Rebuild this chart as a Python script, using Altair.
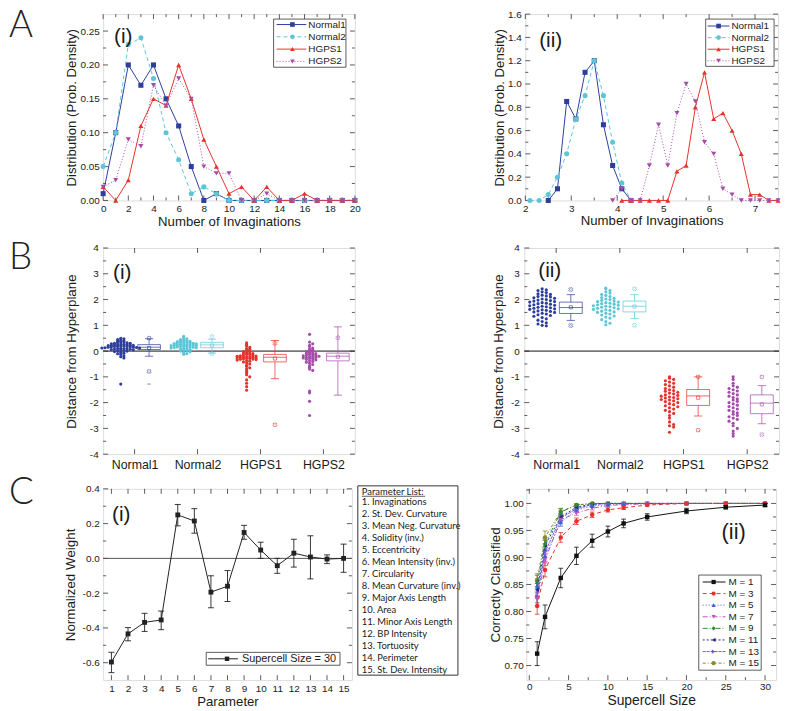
import altair as alt
import pandas as pd

FONT = "Liberation Sans"
LETTER_FONT = "Lato"
LIST_FONT = "Liberation Sans Narrow, Lato"
TXT = "#1a1a1a"
FRAME = "#333333"
MINUS = "\u2212"

C_N1 = "#2e3e9c"
C_N2 = "#5dc6d6"
C_H1 = "#e5322a"
C_H2 = "#a54ca9"

# ---------------- A(i) data ----------------
a1_x = [0, 1, 2, 3, 4, 5, 6, 7, 8, 9, 10, 11, 12, 13, 14, 15, 16, 17, 18, 19, 20]
a1_normal1 = [0.01, 0.10, 0.20, 0.17, 0.20, 0.15, 0.11, 0.05, 0.00, 0.01, 0.00, 0.00, 0.00, 0.00, 0.00, 0.00, 0.00, 0.00, 0.00, 0.00, 0.00]
a1_normal2 = [0.05, 0.10, 0.23, 0.24, 0.18, 0.10, 0.06, 0.01, 0.02, 0.01, 0.00, 0.00, 0.00, 0.00, 0.00, 0.00, 0.00, 0.00, 0.00, 0.00, 0.00]
a1_hgps1 = [0.02, 0.00, 0.03, 0.11, 0.15, 0.14, 0.20, 0.15, 0.09, 0.05, 0.01, 0.02, 0.00, 0.02, 0.00, 0.00, 0.01, 0.00, 0.00, 0.00, 0.00]
a1_hgps2 = [0.02, 0.03, 0.09, 0.08, 0.17, 0.14, 0.18, 0.15, 0.05, 0.04, 0.04, 0.00, 0.00, 0.01, 0.00, 0.00, 0.00, 0.00, 0.00, 0.00, 0.00]

# ---------------- A(ii) data ----------------
a2_n1_x = [2.5, 2.7, 2.9, 3.1, 3.3, 3.5, 3.7, 3.9, 4.1, 4.3]
a2_n1_y = [0.0, 0.10, 0.85, 0.70, 1.10, 1.20, 0.65, 0.30, 0.10, 0.0]
a2_n2_x = [2.1, 2.3, 2.5, 2.7, 2.9, 3.1, 3.3, 3.5, 3.7, 3.9, 4.1, 4.3]
a2_n2_y = [0.0, 0.0, 0.05, 0.20, 0.40, 0.70, 0.90, 1.20, 0.90, 0.50, 0.15, 0.0]
a2_h1_x = [4.1, 4.3, 4.5, 4.7, 4.9, 5.1, 5.3, 5.5, 5.7, 5.9, 6.1, 6.3, 6.5, 6.7, 6.9, 7.1, 7.3, 7.5]
a2_h1_y = [0.0, 0.0, 0.0, 0.0, 0.0, 0.0, 0.25, 0.30, 0.80, 1.10, 0.70, 0.75, 0.60, 0.40, 0.05, 0.05, 0.0, 0.0]
a2_h2_x = [3.9, 4.1, 4.3, 4.5, 4.7, 4.9, 5.1, 5.3, 5.5, 5.7, 5.9, 6.1, 6.3, 6.5, 6.7, 6.9, 7.1, 7.3, 7.5]
a2_h2_y = [0.0, 0.10, 0.0, 0.0, 0.30, 0.65, 0.30, 0.75, 1.00, 0.85, 0.50, 0.40, 0.10, 0.05, 0.0, 0.0, 0.0, 0.0, 0.0]

# ---------------- B data ----------------
groups = ["Normal1", "Normal2", "HGPS1", "HGPS2"]
b1_normal1 = [0.50, 0.48, 0.45, 0.42, 0.40, 0.38, 0.36, 0.35, 0.33, 0.32, 0.30, 0.30, 0.28, 0.27, 0.26, 0.25, 0.25, 0.24,
              0.23, 0.22, 0.22, 0.21, 0.20, 0.20, 0.19, 0.18, 0.18, 0.17, 0.16, 0.15, 0.15, 0.14, 0.13, 0.12, 0.12, 0.11,
              0.10, 0.10, 0.09, 0.08, 0.07, 0.06, 0.05, 0.04, 0.03, 0.02, 0.00, -0.02, -0.05, -0.08, -0.10, -0.13,
              -0.18, -0.22, -0.27, -1.28]
b1_normal2 = [0.57, 0.52, 0.48, 0.45, 0.43, 0.41, 0.40, 0.38, 0.37, 0.35, 0.34, 0.33, 0.32, 0.31, 0.30, 0.29, 0.28, 0.27,
              0.26, 0.25, 0.25, 0.24, 0.23, 0.22, 0.22, 0.21, 0.20, 0.19, 0.18, 0.17, 0.16, 0.15, 0.14, 0.13, 0.12, 0.11,
              0.10, 0.08, 0.06, 0.04, 0.02, 0.00, -0.03, -0.06, -0.10, -0.12]
b1_hgps1 = [0.32, 0.25, 0.20, 0.15, 0.10, 0.07, 0.04, 0.00, -0.02, -0.05, -0.07, -0.09, -0.10, -0.12, -0.13, -0.15,
            -0.16, -0.18, -0.19, -0.20, -0.21, -0.22, -0.23, -0.24, -0.25, -0.26, -0.27, -0.28, -0.29, -0.30, -0.31,
            -0.32, -0.33, -0.35, -0.37, -0.39, -0.42, -0.45, -0.50, -0.55, -0.60, -0.65, -0.70, -0.78, -0.85, -0.92,
            -1.00, -1.12, -1.25, -1.38, -1.52]
b1_hgps2 = [0.65, 0.35, 0.28, 0.22, 0.18, 0.12, 0.08, 0.05, 0.02, 0.00, -0.02, -0.05, -0.07, -0.09, -0.10, -0.12,
            -0.14, -0.15, -0.17, -0.18, -0.20, -0.21, -0.22, -0.24, -0.25, -0.27, -0.28, -0.30, -0.32, -0.34, -0.37,
            -0.40, -0.43, -0.47, -0.52, -0.57, -0.63, -0.70, -0.75, -1.55, -1.62, -1.95, -2.50]
b1_q1 = [0.06, 0.13, -0.42, -0.38]
b1_med = [0.15, 0.24, -0.24, -0.20]
b1_q3 = [0.25, 0.34, -0.13, -0.08]
b1_wlo = [-0.20, -0.08, -1.07, -1.71]
b1_whi = [0.48, 0.46, 0.41, 0.94]
b1_mean = [0.12, 0.22, -0.29, -0.22]
b1_xmark_group = [1, 1, 2, 2, 3, 3, 4]
b1_xmark_value = [-0.79, 0.50, 0.56, -0.10, 0.30, -2.86, 0.52]
b1_dash_group = [1]
b1_dash_value = [-1.28]

b2_normal1 = [2.42, 2.38, 2.35, 2.30, 2.27, 2.22, 2.20, 2.17, 2.14, 2.12, 2.10, 2.07, 2.05, 2.02, 2.00, 1.98, 1.96,
              1.94, 1.92, 1.90, 1.88, 1.86, 1.84, 1.82, 1.80, 1.78, 1.76, 1.74, 1.72, 1.70, 1.68, 1.66, 1.64, 1.62,
              1.60, 1.58, 1.56, 1.54, 1.52, 1.50, 1.47, 1.44, 1.41, 1.38, 1.35, 1.30, 1.25, 1.20, 1.15, 1.10, 1.05,
              1.00, 0.98]
b2_normal2 = [2.45, 2.42, 2.35, 2.30, 2.25, 2.20, 2.16, 2.12, 2.08, 2.05, 2.02, 2.00, 1.97, 1.94, 1.92, 1.90, 1.88,
              1.86, 1.84, 1.82, 1.80, 1.78, 1.76, 1.74, 1.72, 1.70, 1.68, 1.66, 1.64, 1.62, 1.60, 1.58, 1.55, 1.52,
              1.50, 1.47, 1.44, 1.40, 1.36, 1.32, 1.28, 1.22, 1.15, 1.08, 1.02]
b2_hgps1 = [-1.00, -1.05, -1.10, -1.15, -1.20, -1.25, -1.30, -1.35, -1.40, -1.45, -1.50, -1.53, -1.56, -1.60, -1.63,
            -1.66, -1.70, -1.72, -1.75, -1.78, -1.80, -1.82, -1.85, -1.88, -1.90, -1.93, -1.96, -2.00, -2.04, -2.08,
            -2.12, -2.16, -2.20, -2.25, -2.30, -2.35, -2.42, -2.50, -2.60, -2.75, -2.85, -2.90, -2.95, -3.15]
b2_hgps2 = [-1.00, -1.10, -1.25, -1.35, -1.40, -1.45, -1.50, -1.55, -1.60, -1.65, -1.70, -1.75, -1.80, -1.85, -1.90,
            -1.95, -2.00, -2.05, -2.10, -2.15, -2.20, -2.25, -2.30, -2.35, -2.40, -2.45, -2.50, -2.55, -2.60, -2.65,
            -2.72, -2.80, -2.90, -3.00, -3.10, -3.20, -3.30]
b2_q1 = [1.46, 1.52, -2.11, -2.43]
b2_med = [1.69, 1.74, -1.74, -2.02]
b2_q3 = [1.90, 1.94, -1.49, -1.70]
b2_wlo = [1.19, 1.26, -2.52, -2.82]
b2_whi = [2.19, 2.19, -1.00, -1.34]
b2_mean = [1.70, 1.73, -1.81, -2.07]
b2_xmark_group = [1, 1, 2, 2, 3, 3, 4, 4]
b2_xmark_value = [2.39, 0.99, 2.42, 1.00, -1.00, -3.07, -1.00, -3.24]

# ---------------- C(i) data ----------------
c1_param = [1, 2, 3, 4, 5, 6, 7, 8, 9, 10, 11, 12, 13, 14, 15]
c1_weight = [-0.596, -0.434, -0.368, -0.354, 0.250, 0.215, -0.194, -0.160, 0.149, 0.048, -0.042, 0.030, 0.008, -0.004, 0.000]
c1_lo = [-0.657, -0.474, -0.420, -0.410, 0.187, 0.145, -0.284, -0.248, 0.110, 0.000, -0.086, -0.050, -0.118, -0.030, -0.080]
c1_hi = [-0.540, -0.398, -0.316, -0.303, 0.310, 0.286, -0.100, -0.070, 0.190, 0.093, 0.000, 0.110, 0.130, 0.020, 0.082]
c1_params_list = ["Parameter List:", "1. Invaginations", "2. St. Dev. Curvature", "3. Mean Neg. Curvature",
                  "4. Solidity (inv.)", "5. Eccentricity", "6. Mean Intensity (inv.)", "7. Circularity",
                  "8. Mean Curvature (inv.)", "9. Major Axis Length", "10. Area", "11. Minor Axis Length",
                  "12. BP Intensity", "13. Tortuosity", "14. Perimeter", "15. St. Dev. Intensity"]

# ---------------- C(ii) data ----------------
c2_size = [1, 2, 4, 6, 8, 10, 12, 15, 20, 25, 30]
c2_m1 = [0.722, 0.790, 0.862, 0.903, 0.931, 0.948, 0.963, 0.975, 0.986, 0.993, 0.997]
c2_m1_err = [0.022, 0.022, 0.018, 0.016, 0.012, 0.010, 0.008, 0.006, 0.005, 0.003, 0.003]
c2_m3 = [0.810, 0.877, 0.937, 0.967, 0.979, 0.988, 0.992, 0.997, 1.000, 1.000, 1.000]
c2_m3_err = [0.015, 0.013, 0.009, 0.006, 0.005, 0.004, 0.003, 0.002, 0.001, 0.000, 0.000]
c2_m5 = [0.848, 0.903, 0.965, 0.988, 0.995, 0.998, 0.999, 1.000, 1.000, 1.000, 1.000]
c2_m5_err = [0.012, 0.010, 0.007, 0.004, 0.002, 0.001, 0.001, 0.000, 0.000, 0.000, 0.000]
c2_m7 = [0.822, 0.895, 0.970, 0.982, 0.991, 0.996, 0.998, 0.999, 1.000, 1.000, 1.000]
c2_m7_err = [0.012, 0.010, 0.006, 0.004, 0.003, 0.002, 0.001, 0.000, 0.000, 0.000, 0.000]
c2_m9 = [0.855, 0.925, 0.984, 0.997, 1.000, 1.000, 1.000, 1.000, 1.000, 1.000, 1.000]
c2_m9_err = [0.012, 0.010, 0.006, 0.002, 0.001, 0.000, 0.000, 0.000, 0.000, 0.000, 0.000]
c2_m11 = [0.840, 0.922, 0.975, 0.993, 0.999, 1.000, 1.000, 1.000, 1.000, 1.000, 1.000]
c2_m11_err = [0.012, 0.010, 0.006, 0.003, 0.001, 0.000, 0.000, 0.000, 0.000, 0.000, 0.000]
c2_m13 = [0.828, 0.910, 0.973, 0.990, 0.998, 1.000, 1.000, 1.000, 1.000, 1.000, 1.000]
c2_m13_err = [0.012, 0.010, 0.006, 0.003, 0.001, 0.000, 0.000, 0.000, 0.000, 0.000, 0.000]
c2_m15 = [0.858, 0.937, 0.985, 0.997, 1.000, 1.000, 1.000, 1.000, 1.000, 1.000, 1.000]
c2_m15_err = [0.012, 0.012, 0.006, 0.002, 0.001, 0.000, 0.000, 0.000, 0.000, 0.000, 0.000]
c2_labels = ["M = 1", "M = 3", "M = 5", "M = 7", "M = 9", "M = 11", "M = 13", "M = 15"]


# ================= helpers =================
def fmt_expr(spec):
    return "replace(format(datum.value, '" + spec + "'), '" + MINUS + "', '-')"


def make_axis(values, title, expr, pos=None, orient="x", lsize=10, pad=3, tsize=13.3):
    kw = dict(values=values, labelExpr=expr, ticks=False, tickSize=0, domain=False, grid=False,
              labelFlush=False, labelOverlap=False, labelFont=FONT, labelFontSize=lsize,
              labelColor=TXT, labelPadding=pad)
    if title is None:
        kw["title"] = None
    else:
        kw.update(title=title, titleFont=FONT, titleFontSize=tsize, titleFontWeight="normal",
                  titleColor=TXT, titleBaseline="middle")
        if orient == "x":
            kw["titleY"] = pos
        else:
            kw["titleX"] = pos
    return alt.Axis(**kw)


class P:
    """Scales and axes of one panel, shared by every layer that has a field on them."""
    def __init__(self, xs, ys, xa, ya, w, h):
        self.xs, self.ys, self.xa, self.ya, self.w, self.h = xs, ys, xa, ya, w, h

    def X(self, f):
        return alt.X(f + ":Q", scale=self.xs, axis=self.xa)

    def Y(self, f):
        return alt.Y(f + ":Q", scale=self.ys, axis=self.ya)


def frame_ticks(p, xmaj, xmin, ymaj, ymin, L=5, l=3):
    out = []
    for vals, ln in ((xmaj, L), (xmin, l)):
        if not vals:
            continue
        base = alt.Chart(pd.DataFrame({"t": vals})).mark_rule(color=FRAME, strokeWidth=0.8)
        out.append(base.encode(x=p.X("t"), y=alt.value(p.h - ln), y2=alt.value(p.h)))
        out.append(base.encode(x=p.X("t"), y=alt.value(0), y2=alt.value(ln)))
    for vals, ln in ((ymaj, L), (ymin, l)):
        if not vals:
            continue
        base = alt.Chart(pd.DataFrame({"t": vals})).mark_rule(color=FRAME, strokeWidth=0.8)
        out.append(base.encode(y=p.Y("t"), x=alt.value(0), x2=alt.value(ln)))
        out.append(base.encode(y=p.Y("t"), x=alt.value(p.w - ln), x2=alt.value(p.w)))
    return out


def series(p, x, y, color, shape, dash, size=26):
    df = pd.DataFrame({"x": x, "y": y})
    lk = dict(color=color, strokeWidth=1)
    if dash:
        lk["strokeDash"] = dash
    line = alt.Chart(df).mark_line(**lk).encode(x=p.X("x"), y=p.Y("y"))
    pts = alt.Chart(df).mark_point(shape=shape, filled=True, size=size, color=color, opacity=1).encode(
        x=p.X("x"), y=p.Y("y"))
    return [line, pts]


def one():
    return alt.Chart(pd.DataFrame({"a": [0]}))


def text_at(x, y, s, size, font=FONT, align="left", weight="normal", color=TXT, baseline="alphabetic"):
    return one().mark_text(align=align, baseline=baseline, font=font, fontSize=size, fontWeight=weight,
                           color=color).encode(x=alt.value(x), y=alt.value(y), text=alt.value(s))


def legend(items, box, line_x, marker_x, text_x, y0, dy, fsize=10, msize=22):
    out = [one().mark_rect(fill="white", stroke=FRAME, strokeWidth=0.8).encode(
        x=alt.value(box[0]), x2=alt.value(box[1]), y=alt.value(box[2]), y2=alt.value(box[3]))]
    for i, (lab, col, shp, dash) in enumerate(items):
        y = y0 + dy * i
        rk = dict(color=col, strokeWidth=1)
        if dash:
            rk["strokeDash"] = dash
        out.append(one().mark_rule(**rk).encode(x=alt.value(line_x[0]), x2=alt.value(line_x[1]), y=alt.value(y)))
        out.append(one().mark_point(shape=shp, filled=True, size=msize, color=col, opacity=1).encode(
            x=alt.value(marker_x), y=alt.value(y)))
        out.append(text_at(text_x, y, lab, fsize, baseline="middle"))
    return out


# ================= A(i) =================
wA1, wA2, hA = 254, 255, 188
pA1 = P(alt.Scale(domain=[0, 20], nice=False, zero=False),
        alt.Scale(domain=[0, 0.275], nice=False, zero=False),
        make_axis([0, 2, 4, 6, 8, 10, 12, 14, 16, 18, 20], "Number of Invaginations", fmt_expr("d"), 21, "x", pad=3),
        make_axis([0, 0.05, 0.10, 0.15, 0.20, 0.25], "Distribution (Prob. Density)", fmt_expr(".2f"), -32, "y", pad=4),
        wA1, hA)
a_items = [("Normal1", C_N1, "square", None), ("Normal2", C_N2, "circle", [4, 3]),
           ("HGPS1", C_H1, "triangle-up", None), ("HGPS2", C_H2, "triangle-down", [1, 2])]
A1_layers = frame_ticks(pA1, [0, 2, 4, 6, 8, 10, 12, 14, 16, 18, 20], [1, 3, 5, 7, 9, 11, 13, 15, 17, 19],
                        [0, 0.05, 0.10, 0.15, 0.20, 0.25], [0.025, 0.075, 0.125, 0.175, 0.225])
A1_layers += series(pA1, a1_x, a1_normal1, C_N1, "square", None)
A1_layers += series(pA1, a1_x, a1_normal2, C_N2, "circle", [4, 3])
A1_layers += series(pA1, a1_x, a1_hgps1, C_H1, "triangle-up", None)
A1_layers += series(pA1, a1_x, a1_hgps2, C_H2, "triangle-down", [1, 2])
A1_layers += legend(a_items, (172, 245, 5, 53.6), (175, 205), 191, 207, 10.5, 12.4)
A1_layers.append(text_at(11, 29, "(i)", 21))
A1_layers.append(text_at(-95, 23, "A", 37, font=LETTER_FONT, weight=300, color="#222222"))
A1 = alt.layer(*A1_layers).properties(width=wA1, height=hA)

# ================= A(ii) =================
pA2 = P(alt.Scale(domain=[2, 7.5], nice=False, zero=False),
        alt.Scale(domain=[0, 1.6], nice=False, zero=False),
        make_axis([2, 3, 4, 5, 6, 7], "Number of Invaginations", fmt_expr("d"), 20, "x", pad=3),
        make_axis([0, 0.2, 0.4, 0.6, 0.8, 1.0, 1.2, 1.4, 1.6], "Distribution (Prob. Density)", fmt_expr(".1f"), -26.5, "y", pad=4),
        wA2, hA)
A2_layers = frame_ticks(pA2, [2, 3, 4, 5, 6, 7], [2.5, 3.5, 4.5, 5.5, 6.5],
                        [0, 0.2, 0.4, 0.6, 0.8, 1.0, 1.2, 1.4, 1.6], [0.1, 0.3, 0.5, 0.7, 0.9, 1.1, 1.3, 1.5])
A2_layers += series(pA2, a2_n1_x, a2_n1_y, C_N1, "square", None)
A2_layers += series(pA2, a2_n2_x, a2_n2_y, C_N2, "circle", [4, 3])
A2_layers += series(pA2, a2_h1_x, a2_h1_y, C_H1, "triangle-up", None)
A2_layers += series(pA2, a2_h2_x, a2_h2_y, C_H2, "triangle-down", [1, 2])
A2_layers += legend(a_items, (182, 251, 5, 52.7), (184, 206), 195, 208, 12, 11.7)
A2_layers.append(text_at(14, 33, "(ii)", 21))
A2 = alt.layer(*A2_layers).properties(width=wA2, height=hA)


# ================= B =================
gscale = alt.Scale(domain=groups, range=[C_N1, C_N2, C_H1, C_H2])


def swarm_df(value_lists, binw, step, off=-0.22):
    rows = []
    for i, vals in enumerate(value_lists):
        cat = i + 1
        counts = {}
        for v in vals:
            b = round(v / binw)
            k = counts.get(b, 0)
            counts[b] = k + 1
            sgn = 1 if k % 2 == 1 else -1
            rows.append({"g": groups[i], "x": cat + off + sgn * ((k + 1) // 2) * step, "v": v})
    return pd.DataFrame(rows)


def b_panel(vals, q1, med, q3, wlo, whi, mean, xm_g, xm_v, dm_g, dm_v, w, h, title_x, tag, tag_x, tag_y,
            letter, binw, step):
    p = P(alt.Scale(domain=[0.5, 4.5], nice=False, zero=False),
          alt.Scale(domain=[-4, 4], nice=False, zero=False),
          make_axis([1, 2, 3, 4], None, "['','Normal1','Normal2','HGPS1','HGPS2'][datum.value]", lsize=12.5, pad=4),
          make_axis([-4, -3, -2, -1, 0, 1, 2, 3, 4], "Distance from Hyperplane", fmt_expr("d"), title_x, "y", pad=5, tsize=13.5),
          w, h)
    layers = frame_ticks(p, [1, 2, 3, 4], [], [-4, -3, -2, -1, 0, 1, 2, 3, 4],
                         [-3.5, -2.5, -1.5, -0.5, 0.5, 1.5, 2.5, 3.5])
    layers.append(alt.Chart(pd.DataFrame({"z": [0]})).mark_rule(color="#111111", strokeWidth=1).encode(y=p.Y("z")))
    sw = swarm_df(vals, binw, step)
    col = alt.Color("g:N", scale=gscale, legend=None)
    layers.append(alt.Chart(sw).mark_circle(size=10, opacity=1).encode(x=p.X("x"), y=p.Y("v"), color=col))
    cats = [1, 2, 3, 4]
    bd = pd.DataFrame({"g": groups, "bx1": [c + 0.05 for c in cats], "bx2": [c + 0.41 for c in cats],
                       "bc": [c + 0.23 for c in cats], "cx1": [c + 0.165 for c in cats],
                       "cx2": [c + 0.295 for c in cats], "q1": q1, "med": med, "q3": q3,
                       "wlo": wlo, "whi": whi, "mean": mean})
    base = alt.Chart(bd)
    layers.append(base.mark_rect(fillOpacity=0, strokeWidth=0.9, strokeOpacity=0.8).encode(
        x=p.X("bx1"), x2=alt.X2("bx2"), y=p.Y("q1"), y2=alt.Y2("q3"),
        stroke=alt.Stroke("g:N", scale=gscale, legend=None)))
    layers.append(base.mark_rule(strokeWidth=0.9, opacity=0.8).encode(x=p.X("bx1"), x2=alt.X2("bx2"), y=p.Y("med"), color=col))
    layers.append(base.mark_rule(strokeWidth=0.9, opacity=0.8).encode(x=p.X("bc"), y=p.Y("q3"), y2=alt.Y2("whi"), color=col))
    layers.append(base.mark_rule(strokeWidth=0.9, opacity=0.8).encode(x=p.X("bc"), y=p.Y("wlo"), y2=alt.Y2("q1"), color=col))
    layers.append(base.mark_rule(strokeWidth=0.9, opacity=0.8).encode(x=p.X("cx1"), x2=alt.X2("cx2"), y=p.Y("whi"), color=col))
    layers.append(base.mark_rule(strokeWidth=0.9, opacity=0.8).encode(x=p.X("cx1"), x2=alt.X2("cx2"), y=p.Y("wlo"), color=col))
    layers.append(base.mark_point(shape="square", size=10, filled=False, strokeWidth=0.8, opacity=0.8).encode(
        x=p.X("bc"), y=p.Y("mean"), color=col))
    xm = pd.DataFrame({"g": [groups[i - 1] for i in xm_g], "bc": [i + 0.23 for i in xm_g], "v": xm_v})
    layers.append(alt.Chart(xm).mark_point(shape="cross", angle=45, size=16, filled=False, strokeWidth=0.8,
                                           opacity=0.8).encode(x=p.X("bc"), y=p.Y("v"), color=col))
    if dm_g:
        dm = pd.DataFrame({"g": [groups[i - 1] for i in dm_g], "bc": [i + 0.23 for i in dm_g], "v": dm_v})
        layers.append(alt.Chart(dm).mark_point(shape="stroke", size=12, filled=False, strokeWidth=0.8,
                                               opacity=0.8).encode(x=p.X("bc"), y=p.Y("v"), color=col))
    layers.append(text_at(tag_x, tag_y, tag, 21))
    if letter:
        layers.append(text_at(-95, 21, letter, 37, font=LETTER_FONT, weight=300, color="#222222"))
    return alt.layer(*layers).properties(width=w, height=h)


hB = 208
B1 = b_panel([b1_normal1, b1_normal2, b1_hgps1, b1_hgps2], b1_q1, b1_med, b1_q3, b1_wlo, b1_whi, b1_mean,
             b1_xmark_group, b1_xmark_value, b1_dash_group, b1_dash_value, 254, hB, -31.5, "(i)", 10, 31.5, "B",
             0.08, 0.05)
B2 = b_panel([b2_normal1, b2_normal2, b2_hgps1, b2_hgps2], b2_q1, b2_med, b2_q3, b2_wlo, b2_whi, b2_mean,
             b2_xmark_group, b2_xmark_value, [], [], 257, hB, -26.5, "(ii)", 14, 29.5, None,
             0.14, 0.065)

# ================= C(i) =================
wC1, wC2, hC = 251, 252, 193
pC1 = P(alt.Scale(domain=[0.5, 15.5], nice=False, zero=False),
        alt.Scale(domain=[-0.7, 0.4], nice=False, zero=False),
        make_axis(c1_param, "Parameter", fmt_expr("d"), 21.5, "x", pad=3),
        make_axis([-0.6, -0.4, -0.2, 0.0, 0.2, 0.4], "Normalized Weight", fmt_expr(".1f"), -32.5, "y", pad=4, tsize=13.5),
        wC1, hC)
C1_layers = frame_ticks(pC1, c1_param, [], [-0.6, -0.4, -0.2, 0.0, 0.2, 0.4], [-0.5, -0.3, -0.1, 0.1, 0.3])
C1_layers.append(alt.Chart(pd.DataFrame({"z": [0]})).mark_rule(color="#555555", strokeWidth=1).encode(y=pC1.Y("z")))
c1df = pd.DataFrame({"p": c1_param, "w": c1_weight, "lo": c1_lo, "hi": c1_hi,
                     "cl": [p - 0.18 for p in c1_param], "cr": [p + 0.18 for p in c1_param]})
cb = alt.Chart(c1df)
C1_layers.append(cb.mark_rule(color="#222222", strokeWidth=0.9).encode(x=pC1.X("p"), y=pC1.Y("lo"), y2=alt.Y2("hi")))
C1_layers.append(cb.mark_rule(color="#222222", strokeWidth=0.9).encode(x=pC1.X("cl"), x2=alt.X2("cr"), y=pC1.Y("lo")))
C1_layers.append(cb.mark_rule(color="#222222", strokeWidth=0.9).encode(x=pC1.X("cl"), x2=alt.X2("cr"), y=pC1.Y("hi")))
C1_layers += series(pC1, c1_param, c1_weight, "#222222", "square", None, size=24)
C1_layers += legend([("Supercell Size = 30", "#222222", "square", None)], (104, 239, hC - 28, hC - 15),
                    (106, 136), 125, 140, hC - 21.5, 0, fsize=11, msize=20)
C1_layers.append(text_at(9, 32.5, "(i)", 21))
C1_layers.append(text_at(-95, 15, "C", 37, font=LETTER_FONT, weight=300, color="#222222"))
# parameter list box
C1_layers.append(one().mark_rect(fill="white", stroke=FRAME, strokeWidth=1).encode(
    x=alt.value(wC1 + 6), x2=alt.value(wC1 + 107), y=alt.value(-3), y2=alt.value(hC - 5)))
for i, s in enumerate(c1_params_list):
    yy = 3 if i == 0 else 13 + 12.1 * (i - 1)
    C1_layers.append(text_at(wC1 + 10, yy, s, 9.5, font=LIST_FONT, baseline="middle"))
C1_layers.append(one().mark_rule(color=TXT, strokeWidth=0.7).encode(
    x=alt.value(wC1 + 10), x2=alt.value(wC1 + 74), y=alt.value(7.5)))
C1 = alt.layer(*C1_layers).properties(width=wC1, height=hC)

# ================= C(ii) =================
pC2 = P(alt.Scale(domain=[-0.38, 31.4], nice=False, zero=False),
        alt.Scale(domain=[0.673, 1.027], nice=False, zero=False),
        make_axis([0, 5, 10, 15, 20, 25, 30], "Supercell Size", fmt_expr("d"), 20.5, "x", pad=1.5, tsize=14),
        make_axis([0.70, 0.75, 0.80, 0.85, 0.90, 0.95, 1.00], "Correctly Classified", fmt_expr(".2f"), -31.5, "y", pad=3, tsize=13.5),
        wC2, hC)
C2_layers = frame_ticks(pC2, [0, 5, 10, 15, 20, 25, 30], [2.5, 7.5, 12.5, 17.5, 22.5, 27.5],
                        [0.70, 0.75, 0.80, 0.85, 0.90, 0.95, 1.00], [0.725, 0.775, 0.825, 0.875, 0.925, 0.975, 1.025])
c2_series = [
    (c2_m1, c2_m1_err, "#111111", "square", None),
    (c2_m3, c2_m3_err, "#e5322a", "circle", [4, 3]),
    (c2_m5, c2_m5_err, "#3d5fd8", "triangle-up", [1, 2]),
    (c2_m7, c2_m7_err, "#c155c1", "triangle-down", [5, 2, 1, 2]),
    (c2_m9, c2_m9_err, "#2f8a2f", "diamond", [5, 2, 1, 2, 1, 2]),
    (c2_m11, c2_m11_err, "#1f2a80", "triangle-left", [2, 2]),
    (c2_m13, c2_m13_err, "#6a5bd0", "triangle-right", [3, 1]),
    (c2_m15, c2_m15_err, "#8a8a28", "circle", [3, 2, 1, 2]),
]
for vals, errs, colr, shp, dash in reversed(c2_series):
    edf = pd.DataFrame({"s": c2_size, "lo": [v - e for v, e in zip(vals, errs)], "hi": [v + e for v, e in zip(vals, errs)],
                        "cl": [s - 0.3 for s in c2_size], "cr": [s + 0.3 for s in c2_size]})
    eb = alt.Chart(edf)
    C2_layers.append(eb.mark_rule(color=colr, strokeWidth=0.8).encode(x=pC2.X("s"), y=pC2.Y("lo"), y2=alt.Y2("hi")))
    C2_layers.append(eb.mark_rule(color=colr, strokeWidth=0.8).encode(x=pC2.X("cl"), x2=alt.X2("cr"), y=pC2.Y("lo")))
    C2_layers.append(eb.mark_rule(color=colr, strokeWidth=0.8).encode(x=pC2.X("cl"), x2=alt.X2("cr"), y=pC2.Y("hi")))
for vals, errs, colr, shp, dash in reversed(c2_series):
    C2_layers += series(pC2, c2_size, vals, colr, shp, dash, size=20)
c2_items = [(lab, s[2], s[3], s[4]) for lab, s in zip(c2_labels, c2_series)]
C2_layers += legend(c2_items, (174, 237, hC - 106, hC - 10), (178, 201), 189, 204, hC - 99, 11.7, fsize=10, msize=18)
C2_layers.append(text_at(197, 51, "(ii)", 22))
C2 = alt.layer(*C2_layers).properties(width=wC2, height=hC)

# ================= compose =================
rowA = alt.hconcat(A1, A2, spacing=172, bounds="flush")
rowB = alt.hconcat(B1, B2, spacing=171, bounds="flush")
rowC = alt.hconcat(C1, C2, spacing=176, bounds="flush")

topAB = alt.vconcat(rowA, rowB, spacing=10)
chart = alt.vconcat(topAB, rowC, spacing=2).properties(
    padding={"left": 0, "top": -5, "right": 0, "bottom": 0}
).configure_view(stroke=FRAME, strokeWidth=1).configure(background="white")

chart.save("out.html", embed_options={"renderer": "svg", "actions": False})
